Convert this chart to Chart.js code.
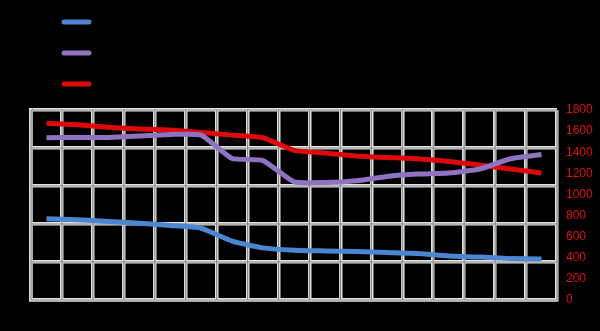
<!DOCTYPE html>
<html>
<head>
<meta charset="utf-8">
<script src="https://cdn.jsdelivr.net/npm/chart.js@4/dist/chart.umd.min.js"></script>
<style>
  html, body { margin: 0; padding: 0; background: #000; }
  #wrap { width: 600px; height: 331px; }
</style>
</head>
<body>
<div id="wrap"><canvas id="chart" width="600" height="331"></canvas></div>
<script>
// categories (axis text is black on black in the source)
const categories = ["1", "2", "3", "4", "5", "6", "7", "8", "9", "10", "11", "12", "13", "14", "15", "16", "17"];
const seriesNames = ["Series 1", "Series 2", "Series 3"];
const blueValues   = [770, 760, 744, 728, 706, 680, 558, 494, 472, 465, 459, 449, 440, 417, 407, 392, 388];
const purpleValues = [1537, 1540, 1540, 1553, 1569, 1562, 1340, 1321, 1120, 1113, 1129, 1171, 1193, 1203, 1241, 1338, 1379];
const redValues    = [1675, 1660, 1636, 1620, 1610, 1588, 1562, 1537, 1418, 1393, 1364, 1350, 1338, 1312, 1280, 1241, 1203];
const rightTicks = [0, 200, 400, 600, 800, 1000, 1200, 1400, 1600, 1800];

const colors = ["#4a86d2", "#8f72c2", "#dc0a0a"];

// light double-edged grid lines: wide light line first, then a grey core on top
const gridCore = {
    id: "gridCore",
    beforeDatasetsDraw(chart) {
        const { ctx, chartArea } = chart;
        const x = chart.scales.x;
        const y = chart.scales.y;
        ctx.save();
        ctx.strokeStyle = "#8a8a8a";
        ctx.lineWidth = 1.2;
        const n = categories.length;
        for (let i = 0; i <= n; i++) {
            const px = x.left + i * (x.width / n);
            ctx.beginPath();
            ctx.moveTo(px, chartArea.top);
            ctx.lineTo(px, chartArea.bottom);
            ctx.stroke();
        }
        y.ticks.forEach(t => {
            const py = y.getPixelForValue(t.value);
            ctx.beginPath();
            ctx.moveTo(chartArea.left, py);
            ctx.lineTo(chartArea.right, py);
            ctx.stroke();
        });
        ctx.restore();
    }
};

// stacked legend in the top-left corner
const stackedLegend = {
    id: "stackedLegend",
    afterDraw(chart) {
        const { ctx } = chart;
        const rows = [22, 53, 84];
        ctx.save();
        chart.data.datasets.forEach((ds, i) => {
            ctx.strokeStyle = ds.borderColor;
            ctx.lineWidth = 5;
            ctx.lineCap = "round";
            ctx.beginPath();
            ctx.moveTo(64, rows[i]);
            ctx.lineTo(89, rows[i]);
            ctx.stroke();
            ctx.fillStyle = "#000";
            ctx.font = "12px 'Liberation Sans', Arial, sans-serif";
            ctx.textBaseline = "middle";
            ctx.fillText(ds.label, 98, rows[i]);
        });
        ctx.restore();
    }
};

new Chart(document.getElementById("chart"), {
    type: "line",
    data: {
        labels: categories,
        datasets: [
            { label: seriesNames[0], data: blueValues, borderColor: colors[0], yAxisID: "y1" },
            { label: seriesNames[1], data: purpleValues, borderColor: colors[1], yAxisID: "y1" },
            { label: seriesNames[2], data: redValues, borderColor: colors[2], yAxisID: "y1" }
        ].map(d => Object.assign(d, {
            borderWidth: 5,
            pointRadius: 0,
            tension: 0.15,
            fill: false
        }))
    },
    options: {
        responsive: false,
        animation: false,
        layout: { padding: { top: 110, left: 0, right: 0, bottom: 0 } },
        plugins: {
            legend: { display: false },
            tooltip: { enabled: false }
        },
        scales: {
            x: {
                offset: true,
                grid: { color: "#e2e2e2", lineWidth: 3.5, offset: true, drawTicks: false },
                border: { color: "#e2e2e2", width: 3.5 },
                ticks: { color: "#000", font: { size: 11 } },
                afterFit(s) { s.height = 31; }
            },
            y: {
                position: "left",
                min: 0,
                max: 100,
                grid: { color: "#e2e2e2", lineWidth: 3.5, drawTicks: false },
                border: { color: "#e2e2e2", width: 3.5 },
                ticks: { stepSize: 20, color: "#000", font: { size: 11 } },
                afterFit(s) { s.width = 31; }
            },
            y1: {
                position: "right",
                min: 0,
                max: 1800,
                afterBuildTicks(s) { s.ticks = rightTicks.map(v => ({ value: v })); },
                grid: { display: false, drawTicks: false },
                border: { display: false },
                ticks: {
                    color: "#e01010",
                    padding: 9,
                    callback: v => String(v),
                    font: { size: 12, family: "'Liberation Sans', Arial, sans-serif" }
                },
                afterFit(s) { s.width = 43; }
            }
        }
    },
    plugins: [gridCore, stackedLegend]
});
</script>
</body>
</html>
